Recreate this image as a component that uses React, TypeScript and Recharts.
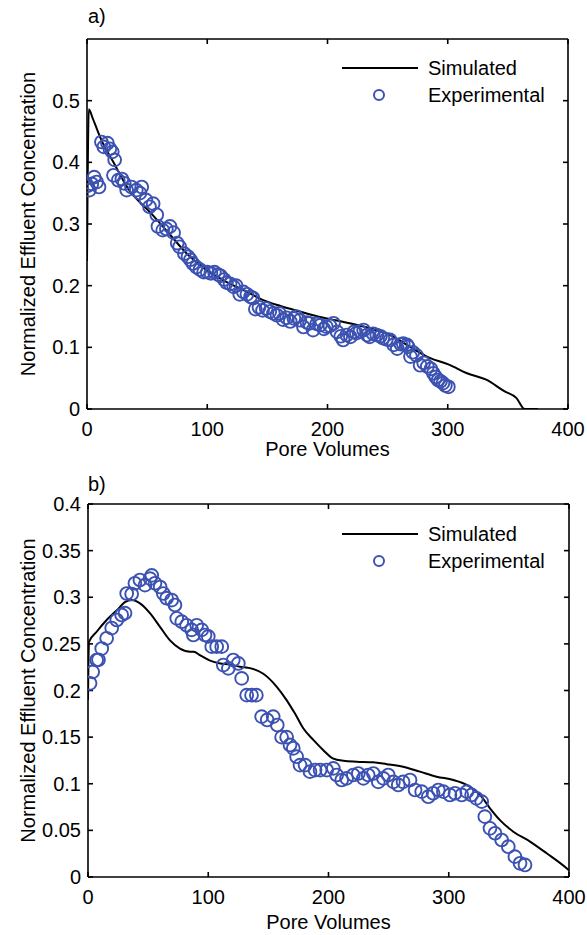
import React from "react";
import {
  ComposedChart,
  Line,
  Scatter,
  XAxis,
  YAxis,
  Legend,
} from "recharts";

// ---- panel a ----
const simA = [
  { x: 0, y: 0.24 }, { x: 1.5, y: 0.486 }, { x: 5, y: 0.47 }, { x: 12, y: 0.436 },
  { x: 22, y: 0.4 }, { x: 34, y: 0.358 }, { x: 53, y: 0.318 }, { x: 68, y: 0.285 },
  { x: 84, y: 0.25 }, { x: 99, y: 0.226 }, { x: 115, y: 0.207 }, { x: 130, y: 0.193 },
  { x: 146, y: 0.177 }, { x: 161, y: 0.167 }, { x: 177, y: 0.158 }, { x: 192, y: 0.15 },
  { x: 208, y: 0.1436 }, { x: 223, y: 0.137 }, { x: 239, y: 0.1285 }, { x: 254, y: 0.118 },
  { x: 270, y: 0.099 }, { x: 285, y: 0.083 }, { x: 301, y: 0.072 }, { x: 316, y: 0.058 },
  { x: 332, y: 0.0475 }, { x: 347, y: 0.029 }, { x: 357, y: 0.018 }, { x: 364, y: 0 },
  { x: 375, y: 0 },
];

const expA = [
  [0.5, 0.362], [2, 0.355], [4, 0.365], [6, 0.376], [8, 0.368], [10, 0.36],
  [12, 0.433], [14, 0.425], [17, 0.431], [19, 0.422], [21, 0.417], [23, 0.404],
  [22, 0.379], [26, 0.371], [29, 0.373], [31, 0.366], [33, 0.355], [37, 0.36],
  [41, 0.355], [44, 0.35], [45.5, 0.36], [49, 0.339], [52, 0.328], [55, 0.333],
  [58, 0.315], [59, 0.296], [63, 0.29], [66, 0.292], [69, 0.296], [72, 0.286],
  [75, 0.269], [77, 0.263], [81, 0.252], [84, 0.247], [86, 0.242], [88, 0.236],
  [91, 0.23], [94, 0.226], [97, 0.222], [100, 0.222], [103, 0.22], [106, 0.222],
  [109, 0.218], [111, 0.216], [114, 0.21], [116, 0.205], [119, 0.203], [122, 0.198],
  [124, 0.2], [127, 0.186], [130, 0.19], [133, 0.186], [136, 0.182], [138, 0.18],
  [140, 0.162], [143, 0.165], [146, 0.16], [149, 0.163], [152, 0.158], [155, 0.155],
  [158, 0.152], [160, 0.155], [163, 0.145], [166, 0.148], [169, 0.142], [172, 0.147],
  [174, 0.15], [177, 0.144], [180, 0.133], [183, 0.14], [185, 0.139], [188, 0.128],
  [191, 0.138], [194, 0.136], [197, 0.13], [199, 0.1335], [202, 0.135], [205, 0.139],
  [208, 0.125], [211, 0.118], [213, 0.112], [216, 0.12], [219, 0.117], [222, 0.125],
  [224, 0.123], [227, 0.126], [230, 0.128], [233, 0.12], [235, 0.117], [238, 0.122],
  [241, 0.12], [244, 0.118], [246, 0.115], [249, 0.113], [252, 0.112], [255, 0.104],
  [258, 0.098], [261, 0.105], [263, 0.106], [266, 0.104], [267, 0.101], [269, 0.085],
  [271, 0.092], [274, 0.087], [277, 0.071], [280, 0.075], [283, 0.069], [286, 0.065],
  [288, 0.058], [290, 0.052], [292, 0.047], [294, 0.045], [296, 0.042], [298, 0.038],
  [300.5, 0.036],
].map(([x, y]) => ({ x, y }));

// ---- panel b ----
const simB = [
  { x: 0, y: 0.19 }, { x: 0.8, y: 0.252 }, { x: 7.2, y: 0.263 }, { x: 15.5, y: 0.2756 },
  { x: 24, y: 0.286 }, { x: 31, y: 0.295 }, { x: 36.3, y: 0.297 }, { x: 43.2, y: 0.2935 },
  { x: 51.5, y: 0.283 }, { x: 60, y: 0.268 }, { x: 68, y: 0.254 }, { x: 76.5, y: 0.245 },
  { x: 85, y: 0.2416 }, { x: 88, y: 0.2416 }, { x: 93, y: 0.238 }, { x: 101.5, y: 0.232 },
  { x: 110, y: 0.229 }, { x: 118, y: 0.228 }, { x: 126.4, y: 0.2255 }, { x: 134.7, y: 0.224 },
  { x: 145.8, y: 0.218 }, { x: 157, y: 0.204 }, { x: 165, y: 0.19 }, { x: 172, y: 0.1755 },
  { x: 179, y: 0.1595 }, { x: 187.4, y: 0.147 }, { x: 195.7, y: 0.136 }, { x: 204, y: 0.127 },
  { x: 212.3, y: 0.1247 }, { x: 223.4, y: 0.1237 }, { x: 237, y: 0.123 }, { x: 248.4, y: 0.121 },
  { x: 262, y: 0.1183 }, { x: 276, y: 0.113 }, { x: 290, y: 0.1076 }, { x: 303.8, y: 0.104 },
  { x: 315, y: 0.0987 }, { x: 326, y: 0.088 }, { x: 334.3, y: 0.0737 }, { x: 342.6, y: 0.061 },
  { x: 353.7, y: 0.0486 }, { x: 367.6, y: 0.038 }, { x: 381.4, y: 0.0254 }, { x: 398, y: 0.0093 },
  { x: 400, y: 0.007 },
];

const expB = [
  [1.7, 0.2077], [3.9, 0.22], [7.2, 0.2327], [8.7, 0.233], [11.4, 0.245], [15.5, 0.256],
  [19.7, 0.267], [23.9, 0.2756], [28, 0.281], [30.8, 0.283], [32.2, 0.304], [36.3, 0.3035],
  [39, 0.315], [43.2, 0.3185], [47.4, 0.313], [51.6, 0.32], [53, 0.3235], [55.7, 0.315],
  [60, 0.311], [62.6, 0.304], [65.4, 0.299], [69.6, 0.297], [72.3, 0.2917], [73.8, 0.2774],
  [78, 0.2738], [82, 0.27], [86.2, 0.265], [87.6, 0.2595], [90.4, 0.27], [94.6, 0.265],
  [97.3, 0.2595], [100, 0.258], [102.9, 0.247], [107, 0.247], [111.2, 0.247], [112.5, 0.2273],
  [116.7, 0.2238], [120.8, 0.2327], [125, 0.229], [127.8, 0.213], [132, 0.195], [136, 0.195],
  [140, 0.195], [144.4, 0.172], [149, 0.1684], [154, 0.172], [157.4, 0.163], [161, 0.15],
  [165.2, 0.15], [168, 0.1416], [170.7, 0.138], [173.5, 0.129], [176.3, 0.12], [180.5, 0.12],
  [184.6, 0.113], [188.8, 0.1147], [193, 0.1147], [198.5, 0.1147], [204, 0.1165], [206.8, 0.1094],
  [211, 0.104], [215, 0.1058], [220.6, 0.1094], [224.8, 0.111], [229, 0.1058], [233, 0.1094],
  [237.3, 0.111], [241.4, 0.102], [245.6, 0.1058], [249.7, 0.1094], [254, 0.102], [258, 0.0987],
  [262, 0.102], [267.8, 0.104], [272, 0.0933], [277.5, 0.0915], [283, 0.0861], [287, 0.0898],
  [291.3, 0.0933], [295.5, 0.0915], [301, 0.088], [305.2, 0.0898], [310.8, 0.088], [315, 0.0915],
  [319, 0.088], [323, 0.0844], [327.4, 0.0808], [330, 0.0647], [334.3, 0.0522], [338.5, 0.0469],
  [344, 0.0397], [349.5, 0.0325], [355, 0.0218], [359.3, 0.0147], [363.4, 0.0129],
].map(([x, y]) => ({ x, y }));

const xTicks = [0, 100, 200, 300, 400];
const yTicksA = [0, 0.1, 0.2, 0.3, 0.4, 0.5];
const yTicksB = [0, 0.05, 0.1, 0.15, 0.2, 0.25, 0.3, 0.35, 0.4];

const FONT = "'Liberation Sans', Arial, Helvetica, sans-serif";
const FS = 20;
const BLUE = "#3c52b2";
const AXIS = { stroke: "#000", strokeWidth: 1.6 };
const TICK = { fontSize: FS, fill: "#000", fontFamily: FONT };

const Ring = (props: any) => {
  const { cx, cy } = props;
  if (cx == null || cy == null) return null;
  return <circle cx={cx} cy={cy} r={6.4} fill="none" stroke={BLUE} strokeWidth={1.9} />;
};

const LegendBox = () => (
  <svg width={240} height={58} style={{ display: "block", overflow: "visible" }}>
    <line x1={4} y1={13} x2={80} y2={13} stroke="#000" strokeWidth={2} />
    <text x={90} y={13} dominantBaseline="central" fontSize={FS} fontFamily={FONT} fill="#000">
      Simulated
    </text>
    <circle cx={41} cy={40} r={5} fill="none" stroke={BLUE} strokeWidth={2} />
    <text x={90} y={40} dominantBaseline="central" fontSize={FS} fontFamily={FONT} fill="#000">
      Experimental
    </text>
  </svg>
);

const yTitle = (props: any) => {
  const { viewBox } = props;
  const cx = 28;
  const cy = viewBox.y + viewBox.height / 2;
  return (
    <text
      x={cx}
      y={cy}
      transform={`rotate(-90 ${cx} ${cy})`}
      textAnchor="middle"
      dominantBaseline="central"
      fontSize={FS}
      fontFamily={FONT}
      fill="#000"
    >
      Normalized Effluent Concentration
    </text>
  );
};

const xTitle = (gap: number) => (props: any) => {
  const { viewBox } = props;
  return (
    <text
      x={viewBox.x + viewBox.width / 2}
      y={viewBox.y + gap}
      textAnchor="middle"
      dominantBaseline="central"
      fontSize={FS}
      fontFamily={FONT}
      fill="#000"
    >
      Pore Volumes
    </text>
  );
};

interface IPanelProps {
  sim: { x: number; y: number }[];
  exp: { x: number; y: number }[];
  yMax: number;
  yTicks: number[];
  height: number;
  margin: { top: number; right: number; bottom: number; left: number };
  legendTop: number;
  titleGap: number;
}

// the line is tied to the top/right axes (same domains) so that they draw the box
const Panel = ({ sim, exp, yMax, yTicks, height, margin, legendTop, titleGap }: IPanelProps) => (
  <ComposedChart width={587} height={height} margin={margin}>
    <XAxis
      xAxisId="b"
      dataKey="x"
      type="number"
      domain={[0, 400]}
      ticks={xTicks}
      allowDataOverflow
      height={40}
      tickSize={-5}
      tickMargin={18}
      axisLine={AXIS}
      tickLine={AXIS}
      tick={TICK}
      label={{ content: xTitle(titleGap) }}
    />
    <XAxis
      xAxisId="t"
      dataKey="x"
      orientation="top"
      type="number"
      domain={[0, 400]}
      ticks={xTicks}
      allowDataOverflow
      height={1}
      tickSize={-5}
      axisLine={AXIS}
      tickLine={AXIS}
      tickFormatter={() => ""}
    />
    <YAxis
      yAxisId="l"
      type="number"
      domain={[0, yMax]}
      ticks={yTicks}
      allowDataOverflow
      width={60}
      tickSize={-5}
      tickMargin={12}
      axisLine={AXIS}
      tickLine={AXIS}
      tick={TICK}
      label={{ content: yTitle }}
    />
    <YAxis
      yAxisId="r"
      orientation="right"
      type="number"
      domain={[0, yMax]}
      ticks={yTicks}
      allowDataOverflow
      width={1}
      tickSize={-5}
      axisLine={AXIS}
      tickLine={AXIS}
      tickFormatter={() => ""}
    />
    <Legend
      layout="vertical"
      align="center"
      verticalAlign="middle"
      wrapperStyle={{ left: 338, top: legendTop, width: 240 }}
      content={() => <LegendBox />}
    />
    <Line
      xAxisId="t"
      yAxisId="r"
      data={sim}
      dataKey="y"
      type="monotone"
      stroke="#000"
      strokeWidth={2}
      dot={false}
      activeDot={false}
      isAnimationActive={false}
    />
    <Scatter
      xAxisId="b"
      yAxisId="l"
      data={exp}
      dataKey="y"
      shape={Ring}
      isAnimationActive={false}
    />
  </ComposedChart>
);

const panelLetter: React.CSSProperties = {
  position: "absolute",
  left: 88,
  fontSize: FS,
  fontFamily: FONT,
  lineHeight: "20px",
};

export default function App() {
  return (
    <div style={{ position: "absolute", left: 0, top: 0, width: 587, height: 935, background: "#fff" }}>
      <div style={{ ...panelLetter, top: 6 }}>a)</div>
      <div style={{ position: "absolute", left: 0, top: 0 }}>
        <Panel
          sim={simA}
          exp={expA}
          yMax={0.6}
          yTicks={yTicksA}
          height={470}
          margin={{ top: 38, right: 18, bottom: 21, left: 27 }}
          legendTop={55}
          titleGap={40}
        />
      </div>
      <div style={{ ...panelLetter, top: 474 }}>b)</div>
      <div style={{ position: "absolute", left: 0, top: 470 }}>
        <Panel
          sim={simB}
          exp={expB}
          yMax={0.4}
          yTicks={yTicksB}
          height={465}
          margin={{ top: 33, right: 17, bottom: 18, left: 28 }}
          legendTop={51}
          titleGap={45}
        />
      </div>
    </div>
  );
}
